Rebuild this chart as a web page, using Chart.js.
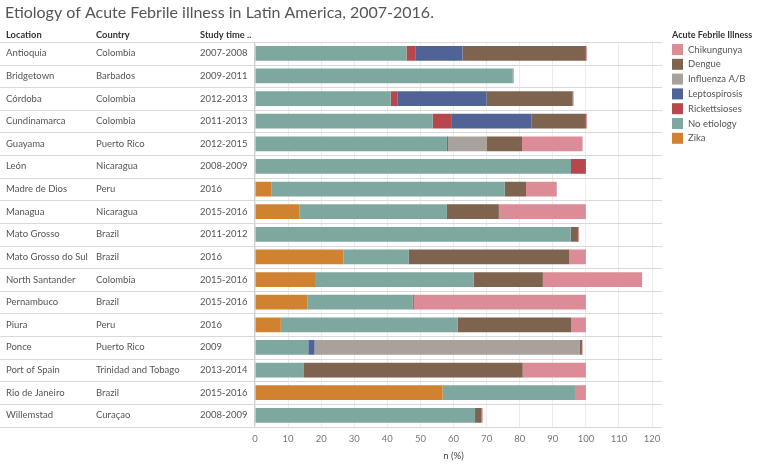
<!DOCTYPE html>
<html>
<head>
<meta charset="utf-8">
<script src="https://cdn.jsdelivr.net/npm/chart.js@4"></script>
<style>
  body { margin: 0; background: #fff; }
  #wrap { width: 758px; height: 464px; }
</style>
</head>
<body>
<div id="wrap"><canvas id="grafica" width="758" height="464"></canvas></div>
<script>
// datos
const locations = ['Antioquia', 'Bridgetown', 'Córdoba', 'Cundinamarca', 'Guayama', 'León', 'Madre de Dios', 'Managua', 'Mato Grosso', 'Mato Grosso do Sul', 'North Santander', 'Pernambuco', 'Piura', 'Ponce', 'Port of Spain', 'Rio de Janeiro', 'Willemstad']
const countries = ['Colombia', 'Barbados', 'Colombia', 'Colombia', 'Puerto Rico', 'Nicaragua', 'Peru', 'Nicaragua', 'Brazil', 'Brazil', 'Colombia', 'Brazil', 'Peru', 'Puerto Rico', 'Trinidad and Tobago', 'Brazil', 'Curaçao']
const studyTimes = ['2007-2008', '2009-2011', '2012-2013', '2011-2013', '2012-2015', '2008-2009', '2016', '2015-2016', '2011-2012', '2016', '2015-2016', '2015-2016', '2016', '2009', '2013-2014', '2015-2016', '2008-2009']

const zika =          [0, 0, 0, 0, 0, 0, 4.9, 13.4, 0, 26.7, 18.4, 15.9, 7.8, 0, 0, 56.7, 0]
const noEtiology =    [45.8, 77.9, 41.0, 53.7, 58.0, 95.5, 70.6, 44.6, 95.4, 19.8, 47.7, 31.8, 53.4, 16.1, 14.8, 40.0, 66.5]
const rickettsioses = [2.8, 0, 2.0, 5.8, 0, 4.5, 0, 0, 0, 0, 0, 0, 0, 0, 0, 0, 0]
const leptospirosis = [14.1, 0, 27.0, 24.0, 0.3, 0, 0, 0, 0, 0, 0, 0, 0, 1.9, 0, 0, 0]
const influenza =     [0, 0, 0, 0, 11.8, 0, 0, 0, 0, 0, 0, 0, 0, 80.2, 0, 0, 0]
const dengue =        [37.3, 0, 26.0, 16.5, 10.6, 0, 6.4, 15.7, 2.2, 48.5, 20.9, 0.3, 34.3, 0.6, 66.1, 0, 2.0]
const chikungunya =   [0.3, 0.3, 0.3, 0.3, 18.3, 0, 9.3, 26.3, 0.3, 5.0, 30.0, 52.0, 4.5, 0.2, 19.1, 3.3, 0.3]

const xTicks = [0, 10, 20, 30, 40, 50, 60, 70, 80, 90, 100, 110, 120]

// leyenda en orden alfabetico, barras en orden de apilado
const legendNames = ['Chikungunya', 'Dengue', 'Influenza A/B', 'Leptospirosis', 'Rickettsioses', 'No etiology', 'Zika']
const colores = {
    'Chikungunya': '#dc8c97',
    'Dengue': '#7e634e',
    'Influenza A/B': '#a9a19c',
    'Leptospirosis': '#4f6397',
    'Rickettsioses': '#b8474d',
    'No etiology': '#7ea89f',
    'Zika': '#d18230'
}

const series = [
    ['Zika', zika],
    ['No etiology', noEtiology],
    ['Rickettsioses', rickettsioses],
    ['Leptospirosis', leptospirosis],
    ['Influenza A/B', influenza],
    ['Dengue', dengue],
    ['Chikungunya', chikungunya]
]

const FUENTE = 'Lato, "Noto Sans", sans-serif'

// tabla, separadores y leyenda
const tablaPlugin = {
    id: 'tabla',
    beforeDatasetsDraw(chart) {
        const ctx = chart.ctx
        const y = chart.scales.y
        const area = chart.chartArea
        const paso = y.getPixelForValue(1) - y.getPixelForValue(0)
        ctx.save()
        ctx.strokeStyle = '#d9d9d9'
        ctx.lineWidth = 1
        for (let i = 0; i <= locations.length; i++) {
            const py = Math.round(y.getPixelForValue(i) - paso / 2) + 0.5
            ctx.beginPath()
            ctx.moveTo(0, py)
            ctx.lineTo(area.right, py)
            ctx.stroke()
        }
        ctx.strokeStyle = '#cfcfcf'
        ctx.beginPath()
        ctx.moveTo(Math.round(area.left) - 0.5, area.top)
        ctx.lineTo(Math.round(area.left) - 0.5, area.bottom)
        ctx.stroke()
        ctx.restore()
    },
    afterDraw(chart) {
        const ctx = chart.ctx
        const y = chart.scales.y
        const x = chart.scales.x
        ctx.save()
        ctx.textBaseline = 'middle'
        ctx.textAlign = 'left'

        ctx.fillStyle = '#555'
        ctx.font = '16px ' + FUENTE
        ctx.fillText('Etiology of Acute Febrile illness in Latin America, 2007-2016.', 5, 13)

        ctx.fillStyle = '#333'
        ctx.font = 'bold 9.3px ' + FUENTE
        ctx.fillText('Location', 6, 35)
        ctx.fillText('Country', 96, 35)
        ctx.fillText('Study time ..', 200, 35)

        ctx.fillStyle = '#555'
        ctx.font = '9.5px ' + FUENTE
        locations.forEach((loc, i) => {
            const py = y.getPixelForValue(i)
            ctx.fillText(loc, 6, py)
            ctx.fillText(countries[i], 96, py)
            ctx.fillText(studyTimes[i], 200, py)
        })

        // titulo del eje
        ctx.textAlign = 'center'
        ctx.fillStyle = '#444'
        ctx.font = '9.5px ' + FUENTE
        ctx.fillText('n (%)', x.getPixelForValue(60), 456)

        // leyenda
        ctx.textAlign = 'left'
        ctx.fillStyle = '#333'
        ctx.font = 'bold 9px ' + FUENTE
        ctx.fillText('Acute Febrile Illness', 672, 35)
        ctx.font = '9.5px ' + FUENTE
        legendNames.forEach((nombre, i) => {
            const py = 49.5 + i * 14.8
            ctx.fillStyle = colores[nombre]
            ctx.fillRect(672, py - 5.5, 11, 11)
            ctx.fillStyle = '#555'
            ctx.fillText(nombre, 688, py)
        })
        ctx.restore()
    }
}

const config = {
    type: 'bar',
    data: {
        labels: locations,
        datasets: series.map(([nombre, valores]) => ({
            label: nombre,
            data: valores,
            backgroundColor: colores[nombre],
            borderWidth: 0,
            barPercentage: 0.65,
            categoryPercentage: 1
        }))
    },
    options: {
        indexAxis: 'y',
        responsive: false,
        devicePixelRatio: 1,
        animation: false,
        layout: { padding: { left: 255, right: 96, top: 42, bottom: 12 } },
        plugins: {
            legend: { display: false },
            tooltip: { enabled: false }
        },
        scales: {
            y: {
                stacked: true,
                display: false
            },
            x: {
                stacked: true,
                min: 0,
                max: 123,
                afterBuildTicks(axis) {
                    axis.ticks = xTicks.map(v => ({ value: v }))
                },
                grid: {
                    color: '#ececec',
                    drawTicks: false
                },
                border: { display: false },
                ticks: {
                    padding: 7,
                    color: '#777',
                    font: { family: FUENTE, size: 9.5 }
                }
            }
        }
    },
    plugins: [tablaPlugin]
}

new Chart(document.querySelector('#grafica'), config)
</script>
</body>
</html>
